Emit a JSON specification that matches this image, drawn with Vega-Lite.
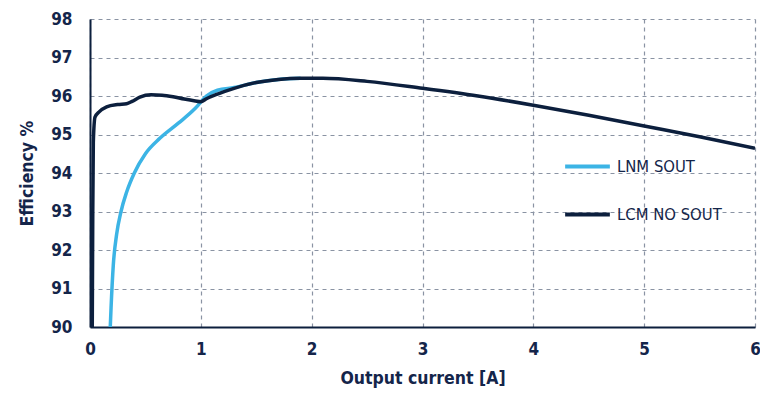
{
  "$schema": "https://vega.github.io/schema/vega-lite/v6.json",
  "width": 665,
  "height": 308,
  "autosize": {"type": "none"},
  "padding": {"left": 90, "top": 19, "right": 5, "bottom": 76},
  "background": "white",
  "config": {
    "view": {"stroke": null},
    "font": "DejaVu Sans Condensed",
    "axis": {
      "labelFont": "DejaVu Sans Condensed",
      "titleFont": "DejaVu Sans Condensed",
      "labelColor": "#14254a",
      "titleColor": "#14254a",
      "labelFontSize": 17,
      "titleFontSize": 17.5,
      "labelFontWeight": "bold",
      "titleFontWeight": "bold",
      "gridColor": "#8a93a3",
      "gridDash": [4, 4],
      "gridWidth": 1.2,
      "gridOpacity": 1,
      "ticks": false,
      "domainColor": "#0c1f3d",
      "domainWidth": 2
    },
    "legend": {
      "labelFont": "DejaVu Sans Condensed",
      "labelFontSize": 16.5,
      "labelColor": "#14254a"
    }
  },
  "datasets": {
    "curves": [
      {"series": "LNM SOUT", "current": 0.18, "eff": 89.8},
      {"series": "LNM SOUT", "current": 0.19, "eff": 90.5},
      {"series": "LNM SOUT", "current": 0.21, "eff": 91.6},
      {"series": "LNM SOUT", "current": 0.24, "eff": 92.4},
      {"series": "LNM SOUT", "current": 0.28, "eff": 93.0},
      {"series": "LNM SOUT", "current": 0.33, "eff": 93.5},
      {"series": "LNM SOUT", "current": 0.4, "eff": 94.0},
      {"series": "LNM SOUT", "current": 0.5, "eff": 94.5},
      {"series": "LNM SOUT", "current": 0.63, "eff": 94.9},
      {"series": "LNM SOUT", "current": 0.8, "eff": 95.3},
      {"series": "LNM SOUT", "current": 0.95, "eff": 95.68},
      {"series": "LNM SOUT", "current": 1.05, "eff": 96.0},
      {"series": "LNM SOUT", "current": 1.15, "eff": 96.15},
      {"series": "LNM SOUT", "current": 1.3, "eff": 96.22},
      {"series": "LNM SOUT", "current": 1.5, "eff": 96.35},
      {"series": "LNM SOUT", "current": 1.7, "eff": 96.43},
      {"series": "LNM SOUT", "current": 1.9, "eff": 96.46},
      {"series": "LCM NO SOUT", "current": 0.02, "eff": 89.8},
      {"series": "LCM NO SOUT", "current": 0.025, "eff": 93.0},
      {"series": "LCM NO SOUT", "current": 0.03, "eff": 94.8},
      {"series": "LCM NO SOUT", "current": 0.045, "eff": 95.45},
      {"series": "LCM NO SOUT", "current": 0.08, "eff": 95.58},
      {"series": "LCM NO SOUT", "current": 0.15, "eff": 95.72},
      {"series": "LCM NO SOUT", "current": 0.25, "eff": 95.78},
      {"series": "LCM NO SOUT", "current": 0.33, "eff": 95.8},
      {"series": "LCM NO SOUT", "current": 0.38, "eff": 95.86},
      {"series": "LCM NO SOUT", "current": 0.45, "eff": 95.97},
      {"series": "LCM NO SOUT", "current": 0.55, "eff": 96.03},
      {"series": "LCM NO SOUT", "current": 0.65, "eff": 96.02},
      {"series": "LCM NO SOUT", "current": 0.75, "eff": 95.98},
      {"series": "LCM NO SOUT", "current": 0.85, "eff": 95.92},
      {"series": "LCM NO SOUT", "current": 0.95, "eff": 95.87},
      {"series": "LCM NO SOUT", "current": 1.0, "eff": 95.85},
      {"series": "LCM NO SOUT", "current": 1.05, "eff": 95.93},
      {"series": "LCM NO SOUT", "current": 1.15, "eff": 96.05},
      {"series": "LCM NO SOUT", "current": 1.3, "eff": 96.2},
      {"series": "LCM NO SOUT", "current": 1.5, "eff": 96.35},
      {"series": "LCM NO SOUT", "current": 1.7, "eff": 96.43},
      {"series": "LCM NO SOUT", "current": 1.9, "eff": 96.46},
      {"series": "LCM NO SOUT", "current": 2.1, "eff": 96.46},
      {"series": "LCM NO SOUT", "current": 2.5, "eff": 96.38},
      {"series": "LCM NO SOUT", "current": 3.0, "eff": 96.2},
      {"series": "LCM NO SOUT", "current": 3.5, "eff": 96.0},
      {"series": "LCM NO SOUT", "current": 4.0, "eff": 95.76},
      {"series": "LCM NO SOUT", "current": 4.5, "eff": 95.5},
      {"series": "LCM NO SOUT", "current": 5.0, "eff": 95.22},
      {"series": "LCM NO SOUT", "current": 5.5, "eff": 94.94},
      {"series": "LCM NO SOUT", "current": 6.0, "eff": 94.64}
    ]
  },
  "data": {"name": "curves"},
  "encoding": {
    "x": {
      "field": "current",
      "type": "quantitative",
      "scale": {"domain": [0, 6], "nice": false, "zero": false},
      "axis": {
        "title": "Output current [A]",
        "values": [0, 1, 2, 3, 4, 5, 6],
        "labelPadding": 14,
        "titlePadding": 12,
        "grid": true,
        "labelFlush": false
      }
    },
    "y": {
      "field": "eff",
      "type": "quantitative",
      "scale": {"domain": [90, 98], "nice": false, "zero": false},
      "axis": {
        "title": "Efficiency %",
        "values": [90, 91, 92, 93, 94, 95, 96, 97, 98],
        "labelPadding": 18,
        "titlePadding": 14,
        "grid": true,
        "labelFlush": false
      }
    },
    "color": {
      "field": "series",
      "type": "nominal",
      "scale": {"domain": ["LNM SOUT", "LCM NO SOUT"], "range": ["#3cb4e5", "#0c1f3d"]},
      "legend": {
        "title": null,
        "orient": "none",
        "legendX": 473,
        "legendY": 123,
        "symbolType": "stroke",
        "symbolSize": 2000,
        "symbolStrokeWidth": 4,
        "rowPadding": 15,
        "labelOffset": 5
      }
    }
  },
  "layer": [
    {
      "transform": [{"filter": "datum.series === 'LNM SOUT'"}],
      "mark": {"type": "line", "interpolate": "monotone", "strokeWidth": 3.5, "clip": true}
    },
    {
      "transform": [{"filter": "datum.series === 'LCM NO SOUT'"}],
      "mark": {"type": "line", "interpolate": "monotone", "strokeWidth": 3.5, "clip": true}
    }
  ]
}
